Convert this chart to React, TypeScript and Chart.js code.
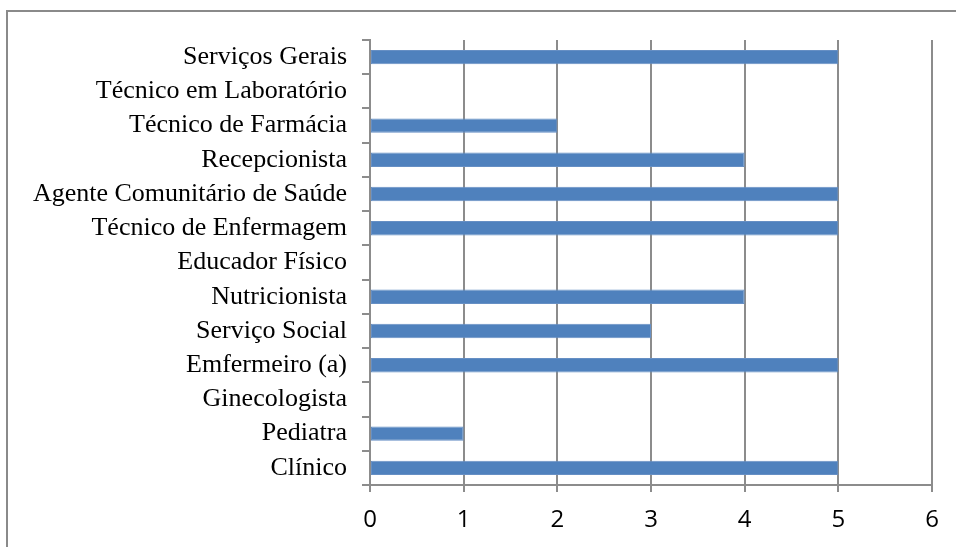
import React, { useEffect, useRef } from "react";
import { Chart, registerables } from "chart.js";

Chart.register(...registerables);

const categories = [
  "Serviços Gerais",
  "Técnico em Laboratório",
  "Técnico de Farmácia",
  "Recepcionista",
  "Agente Comunitário de Saúde",
  "Técnico de Enfermagem",
  "Educador Físico",
  "Nutricionista",
  "Serviço Social",
  "Emfermeiro (a)",
  "Ginecologista",
  "Pediatra",
  "Clínico",
];

const values = [5, 0, 2, 4, 5, 5, 0, 4, 3, 5, 0, 1, 5];

const xTicks = [0, 1, 2, 3, 4, 5, 6];

const frame = {
  id: "frame",
  beforeDraw(chart: any) {
    const ctx = chart.ctx;
    ctx.save();
    ctx.fillStyle = "#ffffff";
    ctx.fillRect(0, 0, chart.width, chart.height);
    ctx.strokeStyle = "#8a8a8a";
    ctx.lineWidth = 2;
    ctx.beginPath();
    ctx.moveTo(7, chart.height);
    ctx.lineTo(7, 11);
    ctx.lineTo(chart.width, 11);
    ctx.stroke();
    ctx.restore();
  },
};

export default function App() {
  const ref = useRef<HTMLCanvasElement | null>(null);

  useEffect(() => {
    document.body.style.margin = "0";
    const canvas = ref.current;
    if (!canvas) return;
    const chart = new Chart(canvas, {
      type: "bar",
      data: {
        labels: categories,
        datasets: [
          {
            data: values,
            backgroundColor: "#4f81bd",
            borderColor: "#668fc4",
            borderWidth: 1,
            borderSkipped: false,
            barPercentage: 0.42,
            categoryPercentage: 1,
          },
        ],
      },
      options: {
        indexAxis: "y",
        animation: false,
        responsive: false,
        devicePixelRatio: 1,
        layout: { padding: { left: 0, right: 24, top: 40, bottom: 0 } },
        plugins: { legend: { display: false }, tooltip: { enabled: false } },
        scales: {
          x: {
            min: 0,
            max: 6,
            afterBuildTicks: (scale: any) => {
              scale.ticks = xTicks.map((v) => ({ value: v }));
            },
            afterFit: (scale: any) => {
              scale.height = 62;
            },
            grid: {
              color: "#8c8c8c",
              lineWidth: 2,
              tickLength: 7,
              drawTicks: true,
            },
            border: { color: "#8c8c8c", width: 2 },
            ticks: {
              color: "#000000",
              font: { family: "'Open Sans'", size: 24 },
              padding: 14,
            },
          },
          y: {
            afterFit: (scale: any) => {
              scale.width = 370;
            },
            grid: {
              display: true,
              drawOnChartArea: false,
              drawTicks: true,
              tickLength: 8,
              color: "#8c8c8c",
              lineWidth: 2,
              offset: true,
            },
            border: { color: "#8c8c8c", width: 2 },
            ticks: {
              color: "#000000",
              font: { family: "'Liberation Serif'", size: 26 },
              padding: 15,
              autoSkip: false,
            },
          },
        },
      },
      plugins: [frame],
    });
    return () => chart.destroy();
  }, []);

  return (
    <div style={{ width: 956, height: 547 }}>
      <canvas ref={ref} width={956} height={547} />
    </div>
  );
}
